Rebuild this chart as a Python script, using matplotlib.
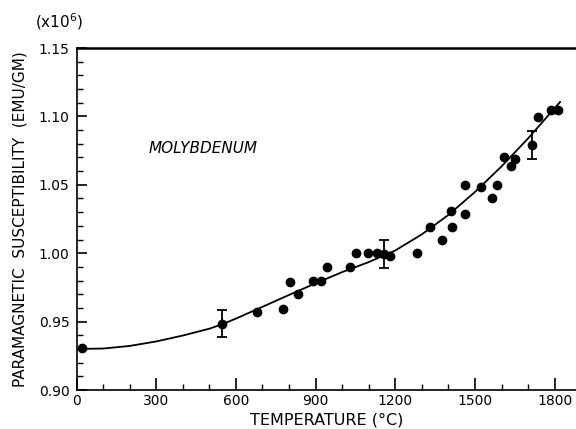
import matplotlib
matplotlib.use("Agg")
import matplotlib.pyplot as plt
from matplotlib.ticker import MultipleLocator, FixedLocator

# Measured points (temperature in deg C, susceptibility x1e6 emu/g)
temps = [22, 678, 777, 802, 833, 892, 920, 944, 1031, 1052, 1099, 1132,
         1181, 1280, 1330, 1374, 1410, 1415, 1461, 1461, 1524, 1563, 1581,
         1609, 1634, 1650, 1737, 1785, 1812]
chi = [0.9305, 0.9570, 0.9593, 0.9793, 0.9700, 0.9800, 0.9800, 0.9900,
       0.9900, 1.0000, 1.0000, 1.0000, 0.9980, 1.0000, 1.0194, 1.0100,
       1.0310, 1.0188, 1.0500, 1.0290, 1.0487, 1.0400, 1.0500, 1.0700,
       1.0638, 1.0686, 1.0993, 1.1050, 1.1050]

# Points with error bars
err_temps = [548, 1159, 1713]
err_chi = [0.9485, 0.9995, 1.0792]
err_size = [0.0098, 0.0101, 0.0103]

# Smooth fitted curve
curve_t = [0, 100, 200, 300, 400, 500, 550, 600, 700, 800, 900, 1000, 1100,
           1200, 1300, 1400, 1500, 1600, 1700, 1820]
curve_chi = [0.9300, 0.9303, 0.9322, 0.9355, 0.9398, 0.9448, 0.9482, 0.9522,
             0.9608, 0.9695, 0.9780, 0.9862, 0.9935, 1.0020, 1.0138,
             1.0280, 1.0448, 1.0635, 1.0840, 1.1105]

xticks = [0, 300, 600, 900, 1200, 1500, 1800]
xticklabels = ["0", "300", "600", "900", "1200", "1500", "1800"]
yticks = [0.90, 0.95, 1.00, 1.05, 1.10, 1.15]
yticklabels = ["0.90", "0.95", "1.00", "1.05", "1.10", "1.15"]

fig = plt.figure(figsize=(5.76, 4.29), dpi=100)
ax = fig.add_axes([76.5 / 576, 1 - 390 / 429, 1 - 76.5 / 576, (390 - 48) / 429])

ax.plot(curve_t, curve_chi, color="black", lw=1.3, zorder=2)
ax.plot(temps, chi, "o", color="black", ms=6, zorder=3)
ax.errorbar(err_temps, err_chi, yerr=err_size, fmt="o", color="black",
            ms=6, capsize=3.5, elinewidth=1.3, capthick=1.3, zorder=3)

ax.set_xlim(0, 1880)
ax.set_ylim(0.90, 1.15)

ax.spines["right"].set_visible(False)
ax.spines["top"].set_linewidth(1.8)
ax.spines["left"].set_linewidth(1.2)
ax.spines["bottom"].set_linewidth(1.2)

ax.xaxis.set_major_locator(FixedLocator(xticks))
ax.set_xticklabels(xticklabels)
ax.xaxis.set_minor_locator(MultipleLocator(100))
ax.yaxis.set_major_locator(FixedLocator(yticks))
ax.set_yticklabels(yticklabels)
ax.yaxis.set_minor_locator(MultipleLocator(0.01))

ax.tick_params(axis="x", which="major", direction="in", length=9, width=1.2,
               top=False, labelsize=10, pad=3)
ax.tick_params(axis="x", which="minor", direction="in", length=4.5, width=1.0,
               top=False)
ax.tick_params(axis="y", which="major", direction="in", length=7.5, width=1.2,
               right=False, labelsize=10, pad=5)
ax.tick_params(axis="y", which="minor", direction="in", length=4.5, width=1.0,
               right=False)

ax.set_xlabel("TEMPERATURE (°C)", fontsize=11.5, labelpad=3)
ax.set_ylabel("PARAMAGNETIC  SUSCEPTIBILITY  (EMU/GM)", fontsize=11, labelpad=8)

fig.text(35 / 576, 1 - 22 / 429, r"(x10$^{6}$)", fontsize=11, ha="left", va="center")
ax.text(476, 1.0769, "MOLYBDENUM", fontsize=11, style="italic", ha="center", va="center")

fig.savefig("out.png", dpi=100)
